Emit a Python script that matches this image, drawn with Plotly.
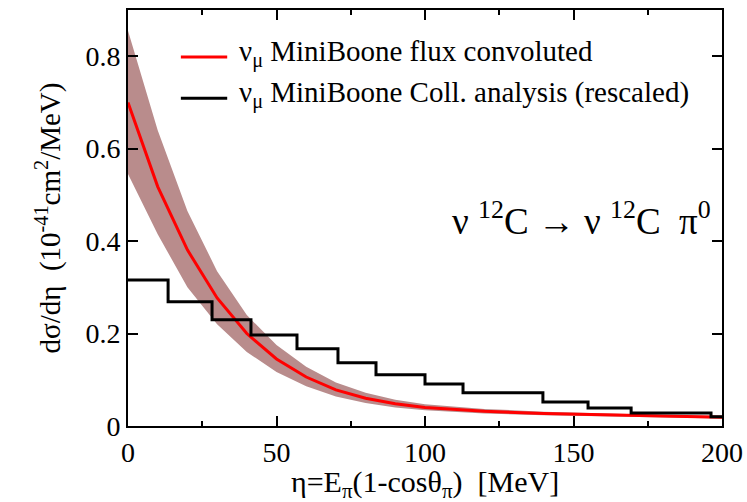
import plotly.graph_objects as go

# Theory curve (red) and its uncertainty band
eta_curve = [0, 10, 20, 30, 40, 50, 60, 70, 80, 90, 100, 120, 140, 160, 180, 200]
ds_curve = [0.700, 0.518, 0.381, 0.277, 0.200, 0.145, 0.106, 0.078, 0.060, 0.048,
            0.040, 0.032, 0.027, 0.024, 0.021, 0.019]
band_upper = [0.855, 0.640, 0.465, 0.335, 0.240, 0.175, 0.128, 0.094, 0.072, 0.057,
              0.047, 0.037, 0.031, 0.027, 0.024, 0.022]
band_lower = [0.545, 0.415, 0.300, 0.220, 0.160, 0.117, 0.086, 0.064, 0.050, 0.040,
              0.034, 0.027, 0.023, 0.021, 0.018, 0.016]

# MiniBooNE histogram (black step)
bin_edges = [0, 13.5, 28.3, 41.4, 56.9, 70.7, 83.5, 100, 112.8, 139.7, 154.9, 169.4, 196.3, 200]
bin_values = [0.316, 0.269, 0.230, 0.197, 0.167, 0.137, 0.111, 0.091, 0.072, 0.052,
              0.039, 0.028, 0.020]

legend_labels = ["ν<sub>μ</sub> MiniBoone flux convoluted",
                 "ν<sub>μ</sub> MiniBoone Coll. analysis (rescaled)"]
legend_colors = ["red", "black"]

FONT = "'Liberation Serif', 'Times New Roman', Times, serif"
BAND = "rgb(185,140,140)"

fig = go.Figure()

fig.add_trace(go.Scatter(x=eta_curve, y=band_upper, mode="lines", line=dict(width=0, color=BAND),
                         showlegend=False, hoverinfo="skip"))
fig.add_trace(go.Scatter(x=eta_curve, y=band_lower, mode="lines", line=dict(width=0, color=BAND),
                         fill="tonexty", fillcolor=BAND, showlegend=False, hoverinfo="skip"))

fig.add_trace(go.Scatter(x=eta_curve, y=ds_curve, mode="lines", line=dict(color="red", width=3),
                         name=legend_labels[0], showlegend=False))
fig.add_trace(go.Scatter(x=bin_edges, y=bin_values + [bin_values[-1]], mode="lines",
                         line=dict(color="black", width=3, shape="hv"),
                         name=legend_labels[1], showlegend=False))

# Manual legend (paper coordinates)
legend_rows_y = [0.887, 0.788]
for lbl, col, ly in zip(legend_labels, legend_colors, legend_rows_y):
    fig.add_shape(type="line", xref="paper", yref="paper", x0=0.089, x1=0.167, y0=ly, y1=ly,
                  line=dict(color=col, width=3))
    fig.add_annotation(x=0.184, y=ly + 0.008, xref="paper", yref="paper", xanchor="left", yanchor="middle",
                       text=lbl, showarrow=False, font=dict(family=FONT, size=29, color="black"))

fig.add_annotation(x=0.985, y=0.50, xref="paper", yref="paper", xanchor="right", yanchor="middle",
                   text="ν <sup>12</sup>C → ν <sup>12</sup>C  π<sup>0</sup>", showarrow=False,
                   font=dict(family=FONT, size=37, color="black"))

# x-axis title as a positioned annotation
fig.add_annotation(x=0.5, y=-0.088, xref="paper", yref="paper", xanchor="center", yanchor="top",
                   text="η=E<sub>π</sub>(1-cosθ<sub>π</sub>)\u00a0\u00a0[MeV]", showarrow=False,
                   font=dict(family=FONT, size=30, color="black"))

axis_common = dict(showgrid=False, zeroline=False, showline=True, linecolor="black", linewidth=2,
                   mirror="ticks", ticks="inside", tickcolor="black", tickwidth=1.5, ticklen=10,
                   tickfont=dict(family=FONT, size=28, color="black"), automargin=False)

fig.update_xaxes(range=[0, 200], tickmode="array", tickvals=[0, 50, 100, 150, 200],
                 ticktext=["0", "50", "100", "150", "200"],
                 minor=dict(tickvals=[25, 75, 125, 175], ticks="inside", ticklen=5, tickcolor="black", tickwidth=1.5),
                 **axis_common)
fig.update_yaxes(range=[0, 0.9], tickmode="array", tickvals=[0, 0.2, 0.4, 0.6, 0.8],
                 ticktext=["0", "0.2", "0.4", "0.6", "0.8"],
                 title=dict(text="dσ/dη\u00a0\u00a0(10<sup>-41</sup>cm<sup>2</sup>/MeV)",
                            font=dict(family=FONT, size=29, color="black"), standoff=16),
                 **axis_common)

fig.update_layout(width=747, height=502, margin=dict(l=128, r=25, t=10, b=76),
                  paper_bgcolor="white", plot_bgcolor="white", showlegend=False)

fig.write_html("out.html")
